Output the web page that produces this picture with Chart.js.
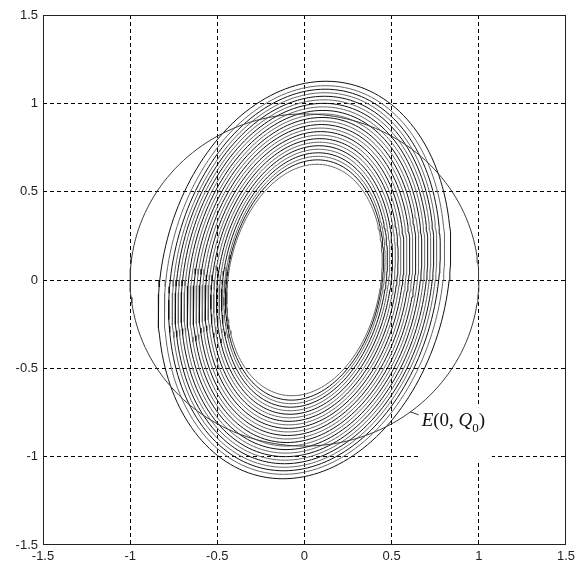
<!DOCTYPE html>
<html>
<head>
<meta charset="utf-8">
<script src="https://cdn.jsdelivr.net/npm/chart.js@4.4.1/dist/chart.umd.min.js"></script>
<style>
  body { margin: 0; background: #fff; }
  #wrap { width: 579px; height: 564px; }
</style>
</head>
<body>
<div id="wrap"><canvas id="chart" width="579" height="564"></canvas></div>
<script>
// axis ticks
const xTicks = [-1.5, -1, -0.5, 0, 0.5, 1, 1.5];
const xTickLabels = ["-1.5", "-1", "-0.5", "0", "0.5", "1", "1.5"];
const yTicks = [-1.5, -1, -0.5, 0, 0.5, 1, 1.5];
const yTickLabels = ["-1.5", "-1", "-0.5", "0", "0.5", "1", "1.5"];

// trajectory loops, outermost first (half width / half height)
const ringHalfWidth = [0.83, 0.795, 0.77, 0.75, 0.733, 0.716, 0.699, 0.682, 0.665, 0.648,
  0.631, 0.614, 0.597, 0.58, 0.563, 0.546, 0.53, 0.514, 0.498, 0.483, 0.469, 0.456, 0.447, 0.44];
const ringHalfHeight = [1.125, 1.1, 1.08, 1.06, 1.04, 1.02, 1.0, 0.98, 0.96, 0.94,
  0.92, 0.9, 0.88, 0.86, 0.84, 0.82, 0.8, 0.78, 0.76, 0.74, 0.72, 0.7, 0.68, 0.655];
// lean of the loops (top shifted right), as fraction of half height
const ringLeanX = 0.11;
const ringLeanY = 0.0;

// boundary E(0,Q0)
const boundHalfWidth = 1.0;
const boundHalfHeight = 0.94;

// label E(0,Q0)
const labelAt = [0.672, -0.825];
const leaderFrom = [0.606, -0.746];
const leaderTo = [0.655, -0.763];

function loopPoints(a, b, kx, ky) {
  const pts = [];
  for (let d = 0; d <= 360; d += 2) {
    const t = d * Math.PI / 180;
    pts.push({ x: a * Math.cos(t) + kx * Math.sin(t), y: b * Math.sin(t) + ky * Math.cos(t) });
  }
  return pts;
}

const datasets = [];
datasets.push({
  data: loopPoints(boundHalfWidth, boundHalfHeight, 0, 0),
  borderColor: "#3a3a3a",
  borderWidth: 1,
  order: 0
});
ringHalfWidth.forEach((a, i) => {
  const b = ringHalfHeight[i];
  datasets.push({
    data: loopPoints(a, b, ringLeanX * b, ringLeanY * b),
    borderColor: i % 2 ? "#666" : "#111",
    borderWidth: 1,
    order: 1
  });
});

const frame = {
  id: "frame",
  beforeDatasetsDraw(chart) {
    // white box behind the label hides the grid there
    const { ctx, scales: { x, y } } = chart;
    const x0 = x.getPixelForValue(0.665), x1 = x.getPixelForValue(1.075);
    const y0 = y.getPixelForValue(-0.72), y1 = y.getPixelForValue(-1.025);
    ctx.save();
    ctx.fillStyle = "#fff";
    ctx.fillRect(x0, y0, x1 - x0, y1 - y0);
    ctx.restore();
  },
  afterDatasetsDraw(chart) {
    const { ctx, chartArea: a, scales: { x, y } } = chart;
    ctx.save();
    ctx.strokeStyle = "#222";
    ctx.lineWidth = 1;
    ctx.strokeRect(Math.round(a.left) + 0.5, Math.round(a.top) + 0.5,
      Math.round(a.right - a.left) - 1, Math.round(a.bottom - a.top) - 1);

    // leader line
    ctx.strokeStyle = "#333";
    ctx.beginPath();
    ctx.moveTo(x.getPixelForValue(leaderFrom[0]), y.getPixelForValue(leaderFrom[1]));
    ctx.lineTo(x.getPixelForValue(leaderTo[0]), y.getPixelForValue(leaderTo[1]));
    ctx.stroke();

    // E(0, Q0)
    let tx = x.getPixelForValue(labelAt[0]);
    const ty = y.getPixelForValue(labelAt[1]);
    ctx.fillStyle = "#111";
    ctx.textBaseline = "alphabetic";
    const it = 'italic 19px "Liberation Serif"';
    const up = '19px "Liberation Serif"';
    const parts = [["E", it, 0], ["(0, ", up, 0], ["Q", it, 0], ["0", '13px "Liberation Serif"', 6], [")", up, 0]];
    parts.forEach(([s, f, dy]) => {
      ctx.font = f;
      ctx.fillText(s, tx, ty + dy);
      tx += ctx.measureText(s).width;
    });
    ctx.restore();
  }
};

const gridColor = (c) => (Math.abs(c.tick.value) === 1.5 ? "rgba(0,0,0,0)" : "#000");

new Chart(document.getElementById("chart").getContext("2d"), {
  type: "scatter",
  data: { datasets },
  options: {
    responsive: false,
    animation: false,
    showLine: true,
    elements: { point: { radius: 0 }, line: { tension: 0, fill: false } },
    layout: { padding: { top: 15, right: 9, left: 0, bottom: 0 } },
    plugins: { legend: { display: false }, tooltip: { enabled: false } },
    scales: {
      x: {
        min: -1.5, max: 1.5,
        afterFit: (s) => { s.height = 19; },
        afterBuildTicks: (s) => { s.ticks = xTicks.map(v => ({ value: v })); },
        ticks: {
          color: "#222", padding: 4, maxRotation: 0,
          font: { family: "Liberation Sans", size: 13 },
          callback: (v) => xTickLabels[xTicks.indexOf(v)]
        },
        grid: { color: gridColor, lineWidth: 1, drawTicks: false },
        border: { display: false, dash: [4, 3] }
      },
      y: {
        min: -1.5, max: 1.5,
        afterFit: (s) => { s.width = 43; },
        afterBuildTicks: (s) => { s.ticks = yTicks.map(v => ({ value: v })); },
        ticks: {
          color: "#222", padding: 5,
          font: { family: "Liberation Sans", size: 13 },
          callback: (v) => yTickLabels[yTicks.indexOf(v)]
        },
        grid: { color: gridColor, lineWidth: 1, drawTicks: false },
        border: { display: false, dash: [4, 3] }
      }
    }
  },
  plugins: [frame]
});
</script>
</body>
</html>
